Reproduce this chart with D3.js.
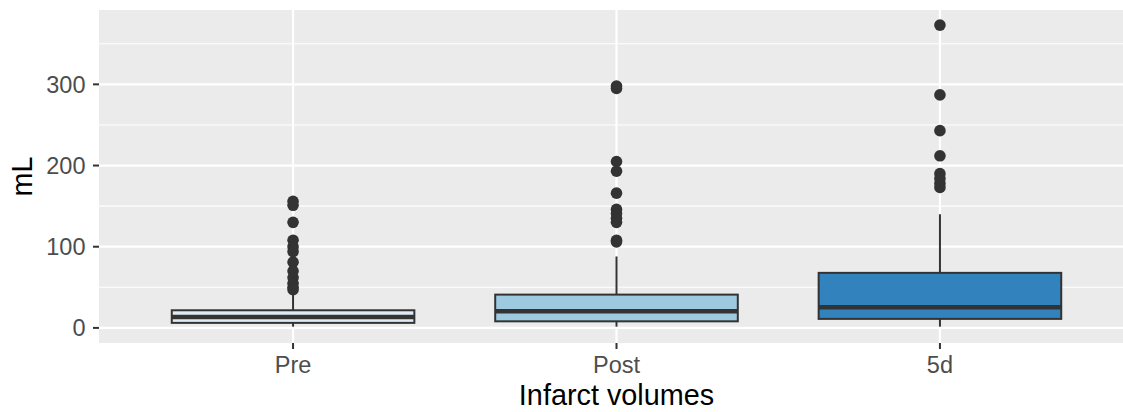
<!DOCTYPE html>
<html>
<head>
<meta charset="utf-8">
<script src="https://cdn.jsdelivr.net/npm/d3@7"></script>
<style>
  html, body { margin: 0; padding: 0; background: #ffffff; }
  svg { display: block; }
  text { font-family: "Liberation Sans", Arial, Helvetica, sans-serif; }
</style>
</head>
<body>
<svg id="chart" width="1123" height="412"></svg>
<script>
// ---- data ----
const categories = ["Pre", "Post", "5d"];
const fills = ["#DEEBF7", "#9ECAE1", "#3182BD"];
const whiskerLow = [1.5, 1.5, 1.5];
const q1 = [6.2, 8.1, 11.1];
const median = [13.5, 20.5, 25.4];
const q3 = [21.7, 41.0, 67.8];
const whiskerHigh = [41, 88, 140];
const outliersPre = [156, 151, 130, 108, 100, 94, 81, 70, 62, 55, 50, 47];
const outliersPost = [298, 295, 205, 193, 166, 146, 141, 135, 130, 108, 106];
const outliers5d = [373, 287, 243, 212, 190, 184, 178, 173];
const outliers = [outliersPre, outliersPost, outliers5d];
const yTicks = [0, 100, 200, 300];
const yMinor = [50, 150, 250, 350];
const yDomain = [-18.6, 391.6];
const xTitle = "Infarct volumes";
const yTitle = "mL";

// ---- layout ----
const svg = d3.select("#chart");
const panel = { left: 99, top: 10, right: 1134, bottom: 343 };

const x = d3.scalePoint().domain(categories).range([panel.left, panel.right]).padding(0.6);
const y = d3.scaleLinear().domain(yDomain).range([panel.bottom, panel.top]);
const boxW = x.step() * 0.75;

const ink = "#333333";

// panel background
svg.append("rect")
  .attr("x", panel.left).attr("y", panel.top)
  .attr("width", panel.right - panel.left).attr("height", panel.bottom - panel.top)
  .attr("fill", "#EBEBEB");

const g = svg.append("g");

// minor grid
g.selectAll("line.minor").data(yMinor).join("line")
  .attr("x1", panel.left).attr("x2", panel.right)
  .attr("y1", d => y(d)).attr("y2", d => y(d))
  .attr("stroke", "#ffffff").attr("stroke-width", 1.1);

// major grid y
g.selectAll("line.majory").data(yTicks).join("line")
  .attr("x1", panel.left).attr("x2", panel.right)
  .attr("y1", d => y(d)).attr("y2", d => y(d))
  .attr("stroke", "#ffffff").attr("stroke-width", 2.2);

// major grid x
g.selectAll("line.majorx").data(categories).join("line")
  .attr("x1", d => x(d)).attr("x2", d => x(d))
  .attr("y1", panel.top).attr("y2", panel.bottom)
  .attr("stroke", "#ffffff").attr("stroke-width", 2.2);

// boxes
categories.forEach((c, i) => {
  const cx = x(c);
  const bg = svg.append("g");
  // whiskers
  bg.append("line").attr("x1", cx).attr("x2", cx)
    .attr("y1", y(q3[i])).attr("y2", y(whiskerHigh[i]))
    .attr("stroke", ink).attr("stroke-width", 2);
  bg.append("line").attr("x1", cx).attr("x2", cx)
    .attr("y1", y(q1[i])).attr("y2", y(whiskerLow[i]))
    .attr("stroke", ink).attr("stroke-width", 2);
  // box
  bg.append("rect")
    .attr("x", cx - boxW / 2).attr("width", boxW)
    .attr("y", y(q3[i])).attr("height", y(q1[i]) - y(q3[i]))
    .attr("fill", fills[i]).attr("stroke", ink).attr("stroke-width", 2);
  // median
  bg.append("line")
    .attr("x1", cx - boxW / 2).attr("x2", cx + boxW / 2)
    .attr("y1", y(median[i])).attr("y2", y(median[i]))
    .attr("stroke", ink).attr("stroke-width", 4.5);
  // outliers
  bg.selectAll("circle").data(outliers[i]).join("circle")
    .attr("cx", cx).attr("cy", d => y(d)).attr("r", 5.8)
    .attr("fill", ink);
});

// y axis ticks and labels
const yAx = svg.append("g");
yAx.selectAll("line").data(yTicks).join("line")
  .attr("x1", panel.left - 6).attr("x2", panel.left)
  .attr("y1", d => y(d)).attr("y2", d => y(d))
  .attr("stroke", ink).attr("stroke-width", 2);
yAx.selectAll("text").data(yTicks).join("text")
  .attr("x", 85.5).attr("y", d => y(d))
  .attr("dy", "0.36em")
  .attr("text-anchor", "end")
  .attr("font-size", 23.5)
  .attr("fill", "#4D4D4D")
  .text(d => d3.format("d")(d));

// x axis ticks and labels
const xAx = svg.append("g");
xAx.selectAll("line").data(categories).join("line")
  .attr("x1", d => x(d)).attr("x2", d => x(d))
  .attr("y1", panel.bottom).attr("y2", panel.bottom + 6)
  .attr("stroke", ink).attr("stroke-width", 2);
xAx.selectAll("text").data(categories).join("text")
  .attr("x", d => x(d)).attr("y", 373)
  .attr("text-anchor", "middle")
  .attr("font-size", 23.5)
  .attr("fill", "#4D4D4D")
  .text(d => d);

// titles
svg.append("text")
  .attr("x", (panel.left + panel.right) / 2)
  .attr("y", 405)
  .attr("text-anchor", "middle")
  .attr("font-size", 28.8)
  .attr("fill", "#000000")
  .text(xTitle);

svg.append("text")
  .attr("transform", `translate(32, ${(panel.top + panel.bottom) / 2}) rotate(-90)`)
  .attr("text-anchor", "middle")
  .attr("font-size", 28.8)
  .attr("fill", "#000000")
  .text(yTitle);
</script>
</body>
</html>
